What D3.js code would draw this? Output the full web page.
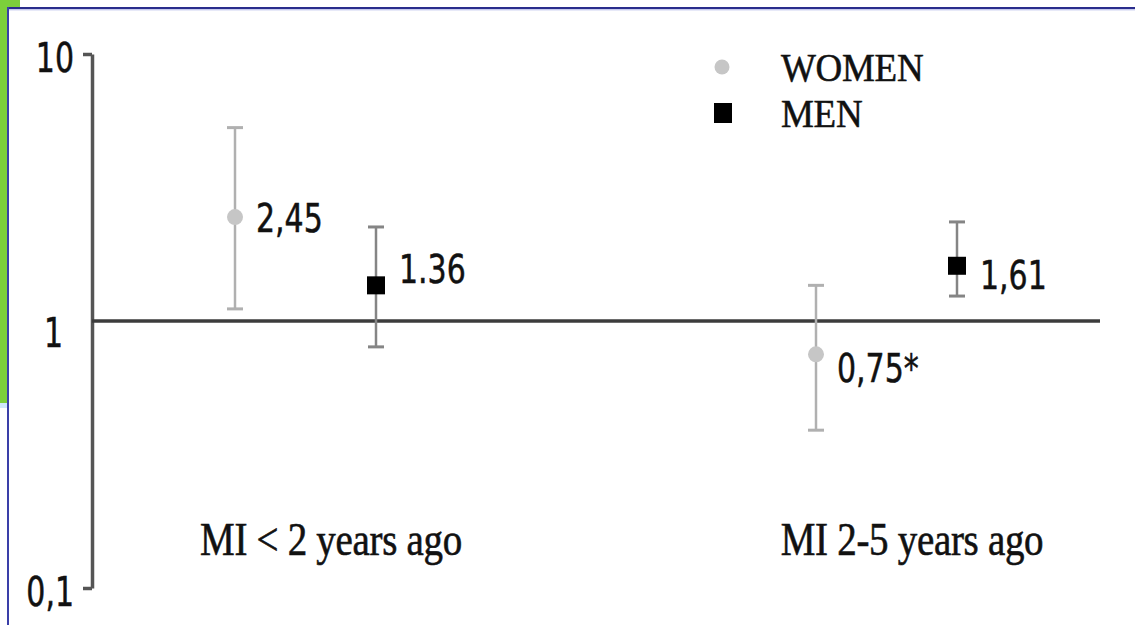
<!DOCTYPE html>
<html>
<head>
<meta charset="utf-8">
<script src="https://cdn.jsdelivr.net/npm/d3@7/dist/d3.min.js"></script>
<style>
  html, body { margin: 0; padding: 0; background: #fff; }
  svg { display: block; }
</style>
</head>
<body>
<svg id="chart" width="1135" height="625"></svg>
<script>
// Odds ratios with confidence intervals, by sex and time since MI
const categories = ["MI < 2 years ago", "MI 2-5 years ago"];
const series = ["WOMEN", "MEN"];

const womenOR = [2.45, 0.75];
const womenLow = [1.11, 0.39];
const womenHigh = [5.3, 1.36];
const womenLabels = ["2,45", "0,75*"];

const menOR = [1.36, 1.61];
const menLow = [0.80, 1.24];
const menHigh = [2.25, 2.35];
const menLabels = ["1.36", "1,61"];

const yTicks = [0.1, 1, 10];
const yTickLabels = ["0,1", "1", "10"];

// ---- layout ----
const W = 1135, H = 625;
const axisX = 92;
const sansFont = "'DejaVu Sans', 'Liberation Sans', sans-serif";
const serifFont = "'Liberation Serif', 'DejaVu Serif', serif";
const textColor = "#111";

const svg = d3.select("#chart");

// slide frame: green strip and navy border
svg.append("rect").attr("x", 0).attr("y", 0).attr("width", W).attr("height", H).attr("fill", "#fff");
svg.append("rect").attr("x", 0).attr("y", 0).attr("width", 20).attr("height", 8).attr("fill", "#7ccf3b");
svg.append("rect").attr("x", 0).attr("y", 0).attr("width", 7).attr("height", 403).attr("fill", "#7ccf3b");
svg.append("rect").attr("x", 0).attr("y", 403).attr("width", 7).attr("height", 5).attr("fill", "#cfe8fb");
svg.append("line").attr("x1", 7.5).attr("x2", W).attr("y1", 8).attr("y2", 8)
  .attr("stroke", "#2a2d8c").attr("stroke-width", 2);
svg.append("line").attr("x1", 9).attr("x2", W).attr("y1", 9.8).attr("y2", 9.8)
  .attr("stroke", "#aeb4e6").attr("stroke-width", 1);
svg.append("line").attr("x1", 8).attr("x2", 8).attr("y1", 7).attr("y2", H)
  .attr("stroke", "#3a3fa8").attr("stroke-width", 2);

// ---- scales ----
const y = d3.scaleLog().domain([0.1, 10]).range([588, 54]);
const xCat = d3.scalePoint().domain(categories).range([331, 912]);
const xOff = d3.scalePoint().domain(series).range([-96, 45]);

// ---- y axis ----
const yAxis = d3.axisLeft(y)
  .tickValues(yTicks)
  .tickFormat(d => yTickLabels[yTicks.indexOf(d)])
  .tickSize(9)
  .tickSizeOuter(0);

const gAxis = svg.append("g")
  .attr("transform", `translate(${axisX},0)`)
  .call(yAxis);

gAxis.select(".domain").attr("stroke", "#555").attr("stroke-width", 3.5);
gAxis.selectAll(".tick line")
  .attr("stroke", "#555").attr("stroke-width", 3.5)
  .attr("opacity", d => d === 1 ? 0 : 1);
gAxis.selectAll(".tick text")
  .attr("x", 0).attr("y", 0).attr("dy", "0.36em")
  .attr("fill", textColor)
  .attr("stroke", textColor).attr("stroke-width", 0.4)
  .style("font-family", sansFont)
  .style("font-size", "30px")
  .attr("text-anchor", "end")
  .attr("transform", d => d === 1
    ? "translate(-29,11) scale(1,1.35)"
    : `translate(-18,${d === 10 ? 3 : 3}) scale(1,1.35)`);

// reference line at OR = 1
svg.append("line")
  .attr("x1", axisX).attr("x2", 1100)
  .attr("y1", y(1)).attr("y2", y(1))
  .attr("stroke", "#3c3c3c").attr("stroke-width", 3.5);

// ---- points and intervals ----
const rows = [];
categories.forEach((c, i) => {
  rows.push({ cat: c, s: "WOMEN", v: womenOR[i], lo: womenLow[i], hi: womenHigh[i], label: womenLabels[i] });
  rows.push({ cat: c, s: "MEN", v: menOR[i], lo: menLow[i], hi: menHigh[i], label: menLabels[i] });
});

// value label placement relative to each marker
const labelDx = { "WOMEN": 21, "MEN": 23 };
const labelDy = [1, -16, 14, 9];

const style = {
  "WOMEN": { bar: "#b0b0b0", fill: "#c6c6c6", barW: 2.5 },
  "MEN": { bar: "#858585", fill: "#000", barW: 2.5 }
};

const px = d => xCat(d.cat) + xOff(d.s);

const g = svg.append("g");
const pts = g.selectAll("g.pt").data(rows).join("g").attr("class", "pt");

pts.append("line")
  .attr("x1", px).attr("x2", px)
  .attr("y1", d => y(d.lo)).attr("y2", d => y(d.hi))
  .attr("stroke", d => style[d.s].bar).attr("stroke-width", d => style[d.s].barW);

["lo", "hi"].forEach(k => {
  pts.append("line")
    .attr("x1", d => px(d) - 8).attr("x2", d => px(d) + 8)
    .attr("y1", d => y(d[k])).attr("y2", d => y(d[k]))
    .attr("stroke", d => style[d.s].bar).attr("stroke-width", 3);
});

pts.filter(d => d.s === "WOMEN").append("circle")
  .attr("cx", px).attr("cy", d => y(d.v)).attr("r", 8)
  .attr("fill", style.WOMEN.fill);

pts.filter(d => d.s === "MEN").append("rect")
  .attr("x", d => px(d) - 9).attr("y", d => y(d.v) - 9)
  .attr("width", 18).attr("height", 18)
  .attr("fill", style.MEN.fill);

pts.append("text")
  .attr("dy", "0.36em")
  .attr("transform", (d, i) => `translate(${px(d) + labelDx[d.s]},${y(d.v) + labelDy[i]}) scale(1,1.3)`)
  .attr("fill", textColor)
  .attr("stroke", textColor).attr("stroke-width", 0.4)
  .style("font-family", sansFont)
  .style("font-size", "30px")
  .text(d => d.label);

// ---- category labels ----
svg.append("g").selectAll("text").data(categories).join("text")
  .attr("transform", d => `translate(${xCat(d)},555) scale(1,1.2)`)
  .attr("text-anchor", "middle")
  .attr("fill", textColor)
  .attr("stroke", textColor).attr("stroke-width", 0.5)
  .style("font-family", serifFont)
  .style("font-size", "39px")
  .style("letter-spacing", "-0.3px")
  .text(d => d);

// ---- legend ----
const legend = svg.append("g");
const legY = { "WOMEN": 67, "MEN": 113 };
legend.append("circle").attr("cx", 722).attr("cy", legY.WOMEN).attr("r", 7.5).attr("fill", style.WOMEN.fill);
legend.append("rect").attr("x", 714).attr("y", legY.MEN - 10).attr("width", 18).attr("height", 20).attr("fill", "#000");
legend.selectAll("text").data(series).join("text")
  .attr("transform", d => `translate(781,${legY[d]}) scale(1,1.08)`)
  .attr("dy", "0.34em")
  .attr("fill", textColor)
  .attr("stroke", textColor).attr("stroke-width", 0.5)
  .style("font-family", serifFont)
  .style("font-size", "37px")
  .style("letter-spacing", "-0.3px")
  .text(d => d);
</script>
</body>
</html>
